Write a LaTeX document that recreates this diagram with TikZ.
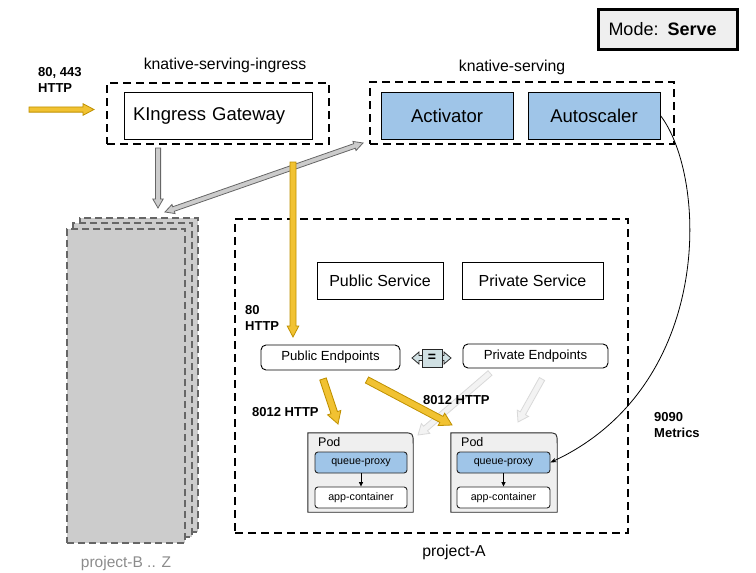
\documentclass[tikz,border=0pt]{standalone}
\usepackage{fontspec}
\setmainfont{Liberation Sans}
\usetikzlibrary{calc,arrows.meta}
\definecolor{ylw}{HTML}{F1C232}
\definecolor{ylwd}{HTML}{BF9000}
\definecolor{blu}{HTML}{9FC5E8}
\definecolor{lgr}{HTML}{EFEFEF}
\definecolor{mgr}{HTML}{CCCCCC}
\definecolor{dgr}{HTML}{666666}
\definecolor{eqc}{HTML}{D0E0E3}
\definecolor{fad}{HTML}{F3F3F3}
\definecolor{fadd}{HTML}{D9D9D9}
\definecolor{lbl}{HTML}{8C8C8C}
\newcommand\fsz[2]{\fontsize{#1}{#2}\selectfont}
\newcommand\blockarrow[6]{%
  \coordinate (bah) at ($(#3)!#6!(#2)$);
  \draw[#1] ($(#2)!#4!90:(#3)$) -- ($(bah)!#4!90:(#3)$) -- ($(bah)!#5!90:(#3)$) -- (#3)
    -- ($(bah)!#5!-90:(#3)$) -- ($(bah)!#4!-90:(#3)$) -- ($(#2)!#4!-90:(#3)$) -- cycle;
}
\newcommand\dblockarrow[6]{%
  \coordinate (bah) at ($(#3)!#6!(#2)$);
  \coordinate (bat) at ($(#2)!#6!(#3)$);
  \draw[#1] (#2) -- ($(bat)!#5!90:(#3)$) -- ($(bat)!#4!90:(#3)$) -- ($(bah)!#4!90:(#3)$)
    -- ($(bah)!#5!90:(#3)$) -- (#3) -- ($(bah)!#5!-90:(#3)$) -- ($(bah)!#4!-90:(#3)$)
    -- ($(bat)!#4!-90:(#3)$) -- ($(bat)!#5!-90:(#3)$) -- cycle;
}
\tikzset{
  dashbox/.style={draw, line width=2pt, dash pattern=on 8pt off 5pt, inner sep=0pt},
  solidbox/.style={draw, line width=0.9pt, inner sep=0pt},
  bigtxt/.style={font=\fsz{18.5}{22}},
  midtxt/.style={font=\fsz{16}{19}},
  eptxt/.style={font=\fsz{13.2}{16}},
  smalltxt/.style={font=\fsz{10.7}{13}},
  nslbl/.style={font=\fsz{15.8}{19}, inner sep=0pt},
  boldlbl/.style={font=\bfseries\fsz{13}{16}, align=left, anchor=west, inner sep=0pt},
  pagebox/.style={draw=dgr, fill=mgr, line width=1.5pt, dash pattern=on 7pt off 4pt, inner sep=0pt},
  yarrow/.style={fill=ylw, draw=ylwd, line width=0.8pt, line join=miter},
  garrow/.style={fill=mgr, draw=dgr, line width=0.8pt},
  farrow/.style={fill=fad, draw=fadd, line width=0.8pt},
  podshape/.style={fill=lgr, draw=black!85, line width=0.9pt},
  inbox/.style={draw=black!85, line width=0.9pt, rounded corners=3pt, inner sep=0pt,
    minimum height=21pt, font=\fsz{10.7}{13}},
}
\begin{document}
\begin{tikzpicture}[x=1pt, y=-1pt]
\useasboundingbox (0,0) rectangle (756,573);

% Mode box
\node[draw, line width=3pt, fill=lgr, minimum width=139pt, minimum height=40pt,
  text width=119pt, inner xsep=10pt, align=left, font=\fsz{18}{22}] (mode) at (668,29.5)
  {Mode: \textbf{Serve}};

% namespaces
\node[nslbl] (ingresslbl) at (225,65) {knative-serving-ingress};
\node[dashbox, minimum width=222pt, minimum height=61pt] (ingressns) at (218,113.5) {};
\node[solidbox, bigtxt, minimum width=188pt, minimum height=47pt, text width=170pt,
  inner xsep=9pt, align=left] (gateway) at (218,115.5) {KIngress Gateway};

\node[nslbl] (servinglbl) at (512,67) {knative-serving};
\node[dashbox, minimum width=304pt, minimum height=62pt] (servingns) at (522,113) {};
\node[solidbox, bigtxt, fill=blu, minimum width=132pt, minimum height=47pt] (activator) at (447,115.5) {Activator};
\node[solidbox, bigtxt, fill=blu, minimum width=132pt, minimum height=47pt] (autoscaler) at (594,115.5) {Autoscaler};

% project B..Z stack
\node[pagebox, minimum width=118pt, minimum height=314pt] (page3) at (139,375) {};
\node[pagebox, minimum width=119pt, minimum height=314pt] (page2) at (132.5,380) {};
\node[pagebox, minimum width=118pt, minimum height=314pt] (page1) at (126,386) {};
\node[font=\fsz{15.5}{18}, text=lbl] (projbz) at (126,563) {project-B .. Z};

% project A
\node[dashbox, minimum width=393pt, minimum height=314pt] (projA) at (431.5,376) {};
\node[font=\fsz{15.8}{19}] (projAlbl) at (454,552) {project-A};

\node[solidbox, midtxt, minimum width=126pt, minimum height=37pt] (pubsvc) at (380,280.5) {Public Service};
\node[solidbox, midtxt, minimum width=141pt, minimum height=37pt] (privsvc) at (532.5,280.5) {Private Service};

\node[solidbox, eptxt, rounded corners=5pt, minimum width=139pt, minimum height=25pt] (pubep) at (330.5,357.5) {Public Endpoints};
\node[solidbox, eptxt, rounded corners=5pt, minimum width=145pt, minimum height=24pt] (privep) at (535.5,356) {Private Endpoints};

% equality arrow
\coordinate (eqL) at (412,358);
\coordinate (eqR) at (451,358);
\dblockarrow{fill=eqc, draw=black!85, line width=0.8pt}{eqL}{eqR}{2.5pt}{6pt}{7pt}
\node[fill=eqc, draw=black!85, line width=0.8pt, minimum width=20pt, minimum height=18pt,
  inner sep=0pt, font=\bfseries\fsz{14}{16}] (eq) at (432,358) {=};

% pods
\node[minimum width=105pt, minimum height=79pt, inner sep=0pt] (pod1) at (360.5,472.5) {};
\draw[podshape] (pod1.south west) -- (pod1.north west) -- ($(pod1.north east)+(-11,0)$)
  .. controls (pod1.north east) .. ($(pod1.north east)+(0,11)$) -- (pod1.south east) -- cycle;
\node[anchor=west, inner sep=0pt, font=\fsz{12.5}{15}] (pod1lbl) at (318,442) {Pod};
\node[inbox, fill=blu, minimum width=92pt] (qp1) at (361,462.5) {queue-proxy};
\node[inbox, fill=white, minimum width=92pt] (app1) at (361,497.5) {app-container};
\draw[line width=0.7pt, -{Triangle[length=4.5pt,width=4pt]}] (qp1) -- (app1);

\node[minimum width=106pt, minimum height=79pt, inner sep=0pt] (pod2) at (504,472.5) {};
\draw[podshape] (pod2.south west) -- (pod2.north west) -- ($(pod2.north east)+(-11,0)$)
  .. controls (pod2.north east) .. ($(pod2.north east)+(0,11)$) -- (pod2.south east) -- cycle;
\node[anchor=west, inner sep=0pt, font=\fsz{12.5}{15}] (pod2lbl) at (461,442) {Pod};
\node[inbox, fill=blu, minimum width=93pt] (qp2) at (503.5,462.5) {queue-proxy};
\node[inbox, fill=white, minimum width=93pt] (app2) at (503.5,497.5) {app-container};
\draw[line width=0.7pt, -{Triangle[length=4.5pt,width=4pt]}] (qp2) -- (app2);

% arrows
\coordinate (inS) at (29,109.5);
\coordinate (inE) at (94,109.5);
\blockarrow{yarrow}{inS}{inE}{2.6pt}{5.8pt}{11pt}

\coordinate (gdS) at (158,148);
\coordinate (gdE) at (158,208);
\blockarrow{garrow}{gdS}{gdE}{2.6pt}{5.2pt}{9pt}

\coordinate (gxA) at (165,212);
\coordinate (gxB) at (363,143);
\dblockarrow{garrow}{gxA}{gxB}{2.4pt}{4.8pt}{9pt}

\coordinate (yvS) at (293,162);
\coordinate (yvE) at (293,337);
\blockarrow{yarrow}{yvS}{yvE}{3pt}{5.8pt}{11pt}

\coordinate (fa1S) at (490,373);
\coordinate (fa1E) at (418,435);
\blockarrow{farrow}{fa1S}{fa1E}{3pt}{6.5pt}{10pt}
\coordinate (fa2S) at (542,379);
\coordinate (fa2E) at (518,422);
\blockarrow{farrow}{fa2S}{fa2E}{3pt}{6.5pt}{10pt}

\coordinate (yd1S) at (323,379);
\coordinate (yd1E) at (338,424);
\blockarrow{yarrow}{yd1S}{yd1E}{3.4pt}{7pt}{12pt}
\coordinate (yd2S) at (367,380);
\coordinate (yd2E) at (452,425);
\blockarrow{yarrow}{yd2S}{yd2E}{3.4pt}{7pt}{12pt}

% metrics curve
\draw[line width=0.8pt, -{Stealth[length=6pt,width=4.5pt]}] (autoscaler.east)
  .. controls (708,178) and (714,386) .. (qp2.east);

% labels
\node[boldlbl] (lblin) at (38,80) {80, 443\\HTTP};
\node[boldlbl] (lbl80) at (245,317.5) {80\\HTTP};
\node[boldlbl] (lbl8012a) at (252,412) {8012 HTTP};
\node[boldlbl] (lbl8012b) at (423,400) {8012 HTTP};
\node[boldlbl] (lbl9090) at (654,425) {9090\\Metrics};
\end{tikzpicture}
\end{document}
